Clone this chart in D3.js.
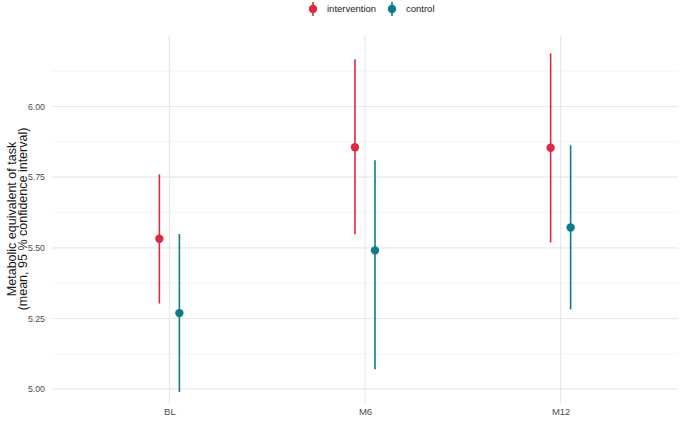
<!DOCTYPE html>
<html>
<head>
<meta charset="utf-8">
<script src="https://cdn.jsdelivr.net/npm/d3@7"></script>
<style>
  body { margin: 0; background: #fff; }
  svg { display: block; font-family: "Liberation Sans", Arial, Helvetica, sans-serif; }
</style>
</head>
<body>
<svg id="chart" width="680" height="423"></svg>
<script>
// data
var timepoints = ['BL', 'M6', 'M12'];
var groups = ['intervention', 'control'];
var interventionMean = [5.532, 5.856, 5.854];
var interventionLow = [5.303, 5.548, 5.519];
var interventionHigh = [5.760, 6.167, 6.188];
var controlMean = [5.269, 5.491, 5.572];
var controlLow = [4.990, 5.070, 5.282];
var controlHigh = [5.549, 5.810, 5.863];
var yTicks = [5.00, 5.25, 5.50, 5.75, 6.00];
var yMinor = [5.125, 5.375, 5.625, 5.875, 6.125];
var colors = ['#dc2a41', '#0e7b89'];

var rows = [];
timepoints.forEach(function (t, i) {
    rows.push({time: t, group: groups[0], mean: interventionMean[i], low: interventionLow[i], high: interventionHigh[i]});
    rows.push({time: t, group: groups[1], mean: controlMean[i], low: controlLow[i], high: controlHigh[i]});
});

var svg = d3.select('#chart');
var margin = {top: 35, right: 2, bottom: 20, left: 52};
var width = 680 - margin.left - margin.right,
    height = 423 - margin.top - margin.bottom;

var x = d3.scalePoint().domain(timepoints).range([0, width]).padding(0.6);
var dodge = 10;
var color = d3.scaleOrdinal().domain(groups).range(colors);
var y = d3.scaleLinear().domain([4.951, 6.253]).range([height, 0]);

var g = svg.append('g').attr('transform', 'translate(' + margin.left + ',' + margin.top + ')');

// grid
g.selectAll('.minor').data(yMinor).enter().append('line')
    .attr('x1', 0).attr('x2', width)
    .attr('y1', function (d) { return y(d); }).attr('y2', function (d) { return y(d); })
    .attr('stroke', '#efefef').attr('stroke-width', 0.6);
g.selectAll('.major').data(yTicks).enter().append('line')
    .attr('x1', 0).attr('x2', width)
    .attr('y1', function (d) { return y(d); }).attr('y2', function (d) { return y(d); })
    .attr('stroke', '#e8e8e8').attr('stroke-width', 1.1);
g.selectAll('.vmajor').data(timepoints).enter().append('line')
    .attr('y1', 0).attr('y2', height)
    .attr('x1', function (d) { return x(d); }).attr('x2', function (d) { return x(d); })
    .attr('stroke', '#e8e8e8').attr('stroke-width', 1.1);

// axes
var yAxis = g.append('g').call(d3.axisLeft(y).tickValues(yTicks).tickFormat(d3.format('.2f')).tickSize(0).tickPadding(7));
yAxis.select('.domain').remove();
yAxis.selectAll('text').attr('fill', '#4d4d4d').style('font-size', '8.8px');

var xAxis = g.append('g').attr('transform', 'translate(0,' + height + ')')
    .call(d3.axisBottom(x).tickSize(0).tickPadding(5));
xAxis.select('.domain').remove();
xAxis.selectAll('text').attr('fill', '#4d4d4d').style('font-size', '9.5px');

// y title
var title = svg.append('text')
    .attr('transform', 'translate(21,' + (margin.top + height / 2) + ') rotate(-90)')
    .attr('text-anchor', 'middle').attr('fill', '#1a1a1a').style('font-size', '12.5px');
title.append('tspan').attr('x', 0).attr('dy', '-0.4em').text('Metabolic equivalent of task');
title.append('tspan').attr('x', 0).attr('dy', '0.9em').text('(mean, 95 % confidence interval)');

// intervals and points
function px(d) {
    return x(d.time) + (d.group === groups[0] ? -dodge : dodge);
}
g.selectAll('.ci').data(rows).enter().append('line')
    .attr('x1', px).attr('x2', px)
    .attr('y1', function (d) { return y(d.low); }).attr('y2', function (d) { return y(d.high); })
    .attr('stroke', function (d) { return color(d.group); }).attr('stroke-width', 1.6);
g.selectAll('.pt').data(rows).enter().append('circle')
    .attr('cx', px).attr('cy', function (d) { return y(d.mean); })
    .attr('r', 4.2).attr('fill', function (d) { return color(d.group); });

// legend
var legendX = [313, 392];
var legend = svg.selectAll('.legend').data(groups).enter().append('g')
    .attr('transform', function (d, i) { return 'translate(' + legendX[i] + ',9)'; });
legend.append('line').attr('y1', -7).attr('y2', 7)
    .attr('stroke', function (d) { return color(d); }).attr('stroke-width', 1.6);
legend.append('circle').attr('r', 4.2).attr('fill', function (d) { return color(d); });
legend.append('text').attr('x', 14).attr('dy', '0.35em')
    .attr('fill', '#1a1a1a').style('font-size', '9.5px').text(function (d) { return d; });
</script>
</body>
</html>
